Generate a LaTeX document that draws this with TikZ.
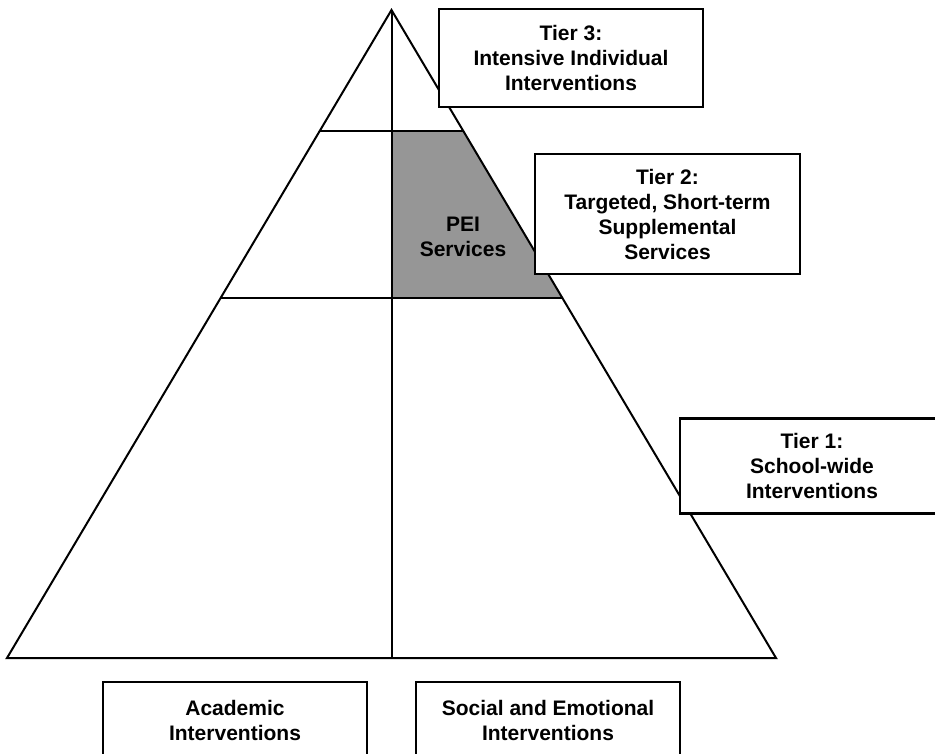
\documentclass[tikz,border=0pt]{standalone}
\usepackage{fontspec}
\setmainfont{Liberation Sans}
\begin{document}
\begin{tikzpicture}[x=1pt,y=-1pt,
  tierbox/.style={draw=black,line width=2.2pt,fill=white,inner sep=0pt,align=center,
    minimum width=264pt,font=\bfseries\fontsize{21}{25}\selectfont},
  pline/.style={line width=2pt,black},
  lbl/.style={inner sep=0pt,align=center,font=\bfseries\fontsize{21}{25}\selectfont}]
\useasboundingbox (0,0) rectangle (935,753);
\clip (0,0) rectangle (935,753);
% pyramid geometry
\coordinate (apex) at (391.5,10);
\coordinate (bl) at (7,658);
\coordinate (br) at (776,658);
\coordinate (mb) at (391.5,658);
\coordinate (l1) at (319.7,131);
\coordinate (r1) at (463.3,131);
\coordinate (m1) at (391.5,131);
\coordinate (l2) at (220.6,298);
\coordinate (r2) at (562.4,298);
\coordinate (m2) at (391.5,298);
% shaded PEI region
\fill[fill={rgb,255:red,150;green,150;blue,150}] (m1) -- (r1) -- (r2) -- (m2) -- cycle;
\node[lbl] (pei) at (463,237) {PEI\\Services};
% outline and dividers
\draw[pline,line join=miter] (apex) -- (bl) -- (br) -- cycle;
\draw[pline] (apex) -- (mb);
\draw[pline] (l1) -- (r1);
\draw[pline] (l2) -- (r2);
% tier boxes
\node[tierbox,minimum height=98pt] (t3) at (571,58) {Tier 3:\\Intensive Individual\\Interventions};
\node[tierbox,minimum height=120pt,minimum width=265pt] (t2) at (667.5,214) {Tier 2:\\Targeted, Short-term\\Supplemental\\Services};
\node[tierbox,minimum height=95pt] (t1) at (812,466) {Tier 1:\\School-wide\\Interventions};
% bottom boxes
\node[tierbox,minimum height=76pt] (acad) at (235,720) {Academic\\Interventions};
\node[tierbox,minimum height=76pt] (soc) at (548,720) {Social and Emotional\\Interventions};
\end{tikzpicture}
\end{document}
